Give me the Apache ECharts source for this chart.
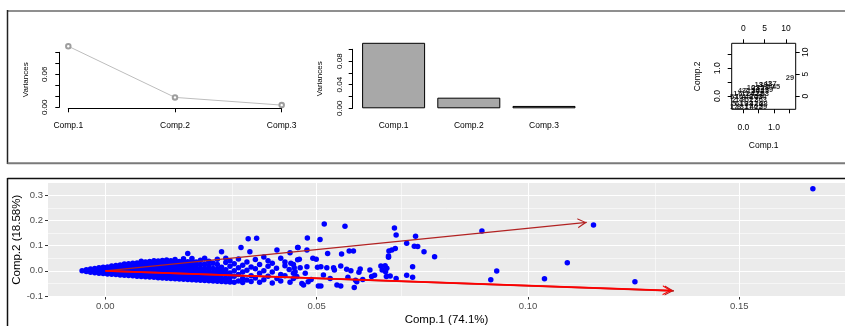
<!DOCTYPE html>
<html><head><meta charset="utf-8">
<script src="https://cdn.jsdelivr.net/npm/echarts@6/dist/echarts.min.js"></script>
<style>html,body{margin:0;padding:0;background:#fff}#c{width:845px;height:326px}</style>
</head><body><div id="c"></div>
<script>
const compLabels = ['Comp.1', 'Comp.2', 'Comp.3'];
const variances = [0.111, 0.018, 0.004];
const screeLabelTicks = [0, 0.06];
const barLabelTicks = [0, 0.04, 0.08];
const biplotBottomTicks = [0, 0.5, 1, 1.5];
const biplotBottomLabels = [0, 1];
const biplotTopTicks = [0, 5, 10];
const mainXTicks = [0, 0.05, 0.10, 0.15];
const mainYTicks = [-0.1, 0, 0.1, 0.2, 0.3];
const mainXMinor = [0.025, 0.075, 0.125];
const mainYMinor = [-0.05, 0.05, 0.15, 0.25];
const loadings = [[0.1139, 0.1925], [0.1345, -0.0795], [0.134, -0.0785]];

const denseScores = [
[-0.0055,0.000],[-0.0045,-0.003],[-0.0045,0.004],[-0.0035,-0.006],[-0.0035,0.001],[-0.0035,0.007],
[-0.0025,-0.008],[-0.0025,0.000],[-0.0025,0.009],[-0.0015,-0.010],[-0.0015,-0.002],[-0.0015,0.006],[-0.0015,0.012],
[-0.0005,-0.011],[-0.0005,-0.003],[-0.0005,0.005],[-0.0005,0.014],[0.0005,-0.013],[0.0005,-0.004],[0.0005,0.005],[0.0005,0.015],
[0.0015,-0.014],[0.0015,-0.005],[0.0015,0.004],[0.0015,0.013],[0.0015,0.019],
[0.0025,-0.015],[0.0025,-0.006],[0.0025,0.003],[0.0025,0.012],[0.0025,0.021],
[0.0035,-0.017],[0.0035,-0.007],[0.0035,0.003],[0.0035,0.013],[0.0035,0.023],
[0.0045,-0.018],[0.0045,-0.008],[0.0045,0.002],[0.0045,0.012],[0.0045,0.022],[0.0045,0.027],
[0.0055,-0.019],[0.0055,-0.009],[0.0055,0.001],[0.0055,0.011],[0.0055,0.021],[0.0055,0.028],
[0.0065,-0.020],[0.0065,-0.010],[0.0065,0.001],[0.0065,0.012],[0.0065,0.022],[0.0065,0.030],
[0.0075,-0.022],[0.0075,-0.012],[0.0075,-0.001],[0.0075,0.010],[0.0075,0.021],[0.0075,0.031],
[0.0085,-0.023],[0.0085,-0.013],[0.0085,-0.002],[0.0085,0.009],[0.0085,0.020],[0.0085,0.031],[0.0085,0.038],
[0.0095,-0.024],[0.0095,-0.014],[0.0095,-0.003],[0.0095,0.008],[0.0095,0.019],[0.0095,0.030],[0.0095,0.035],
[0.0105,-0.025],[0.0105,-0.015],[0.0105,-0.004],[0.0105,0.008],[0.0105,0.019],[0.0105,0.029],[0.0105,0.037],
[0.0115,-0.026],[0.0115,-0.016],[0.0115,-0.005],[0.0115,0.007],[0.0115,0.018],[0.0115,0.030],[0.0115,0.040],
[0.0125,-0.027],[0.0125,-0.017],[0.0125,-0.006],[0.0125,0.006],[0.0125,0.017],[0.0125,0.028],[0.0125,0.039],
[0.0135,-0.028],[0.0135,-0.018],[0.0135,-0.007],[0.0135,0.005],[0.0135,0.016],[0.0135,0.028],[0.0135,0.041],
[0.0145,-0.029],[0.0145,-0.019],[0.0145,-0.008],[0.0145,0.004],[0.0145,0.016],[0.0145,0.029],[0.0145,0.043],
[0.0155,-0.030],[0.0155,-0.020],[0.0155,-0.009],[0.0155,0.003],[0.0155,0.015],[0.0155,0.027],[0.0155,0.040],
[0.0165,-0.031],[0.0165,-0.021],[0.0165,-0.010],[0.0165,0.002],[0.0165,0.014],[0.0165,0.026],[0.0165,0.038],[0.0165,0.045],
[0.0175,-0.032],[0.0175,-0.022],[0.0175,-0.011],[0.0175,0.001],[0.0175,0.013],[0.0175,0.025],[0.0175,0.037],
[0.0185,-0.033],[0.0185,-0.023],[0.0185,-0.012],[0.0185,0.000],[0.0185,0.012],[0.0185,0.026],[0.0185,0.040],[0.0185,0.048],
[0.0195,-0.034],[0.0195,-0.024],[0.0195,-0.013],[0.0195,-0.001],[0.0195,0.011],[0.0195,0.024],[0.0195,0.036],[0.0195,0.069],
[0.0205,-0.035],[0.0205,-0.025],[0.0205,-0.014],[0.0205,-0.002],[0.0205,0.010],[0.0205,0.023],[0.0205,0.038],[0.0205,0.049],
[0.0215,-0.036],[0.0215,-0.026],[0.0215,-0.015],[0.0215,-0.003],[0.0215,0.009],[0.0215,0.022],[0.0215,0.035],
[0.0225,-0.037],[0.0225,-0.027],[0.0225,-0.016],[0.0225,-0.004],[0.0225,0.008],[0.0225,0.024],[0.0225,0.042],
[0.0235,-0.038],[0.0235,-0.028],[0.0235,-0.017],[0.0235,-0.005],[0.0235,0.010],[0.0235,0.027],[0.0235,0.050],
[0.0245,-0.039],[0.0245,-0.029],[0.0245,-0.018],[0.0245,-0.006],[0.0245,0.007],[0.0245,0.021],[0.0245,0.038],
[0.0255,-0.040],[0.0255,-0.030],[0.0255,-0.019],[0.0255,-0.007],[0.0255,0.009],[0.0255,0.030],
[0.0265,-0.041],[0.0265,-0.031],[0.0265,-0.020],[0.0265,-0.008],[0.0265,0.006],[0.0265,0.025],[0.0265,0.046],
[0.0275,-0.042],[0.0275,-0.030],[0.0275,-0.016],[0.0275,-0.002],[0.0275,0.014],[0.0275,0.076],
[0.0285,-0.043],[0.0285,-0.029],[0.0285,-0.012],[0.0285,0.004],[0.0285,0.033],[0.0285,0.050],
[0.0295,-0.044],[0.0295,-0.027],[0.0295,-0.009],[0.0295,0.018],[0.0295,0.040],
[0.0305,-0.045],[0.0305,-0.022],[0.0305,0.000],[0.0305,0.028],
[0.0315,-0.040],[0.0315,-0.015],[0.0315,0.012],[0.0315,0.047]
];
const sparseScores = [
[0.0325,-0.046],[0.0325,-0.030],[0.0325,-0.005],[0.0325,0.022],[0.0321,0.093],
[0.0335,-0.036],[0.0335,0.002],[0.0335,0.035],[0.0338,0.127],
[0.0345,-0.042],[0.0345,-0.020],[0.0345,0.015],[0.0342,0.076],
[0.0355,-0.028],[0.0355,0.008],[0.0355,0.045],[0.0358,0.129],
[0.0365,-0.045],[0.0365,-0.010],[0.0365,0.025],
[0.0375,-0.035],[0.0375,0.000],[0.0375,0.055],
[0.0385,-0.022],[0.0385,0.018],[0.0385,0.040],
[0.0395,-0.048],[0.0395,-0.005],[0.0395,0.030],
[0.0406,-0.030],[0.0405,0.010],[0.0406,0.083],
[0.0415,-0.040],[0.0415,-0.015],[0.0415,0.050],
[0.0425,-0.020],[0.0425,0.020],[0.0425,0.035],
[0.0437,-0.045],[0.0435,0.005],[0.0437,0.072],
[0.0445,-0.030],[0.0445,-0.010],[0.0445,0.025],[0.0455,0.093],[0.0455,0.044],
[0.0518,0.186],[0.0567,0.177],[0.0478,0.130],[0.0508,0.124],[0.0684,0.170],[0.0688,0.142],
[0.0734,0.137],[0.0713,0.110],[0.0686,0.089],[0.0731,0.098],[0.0739,0.097],[0.0754,0.076],
[0.0779,0.056],[0.0891,0.158],[0.1093,0.032],[0.0926,-0.001],[0.0912,-0.035],[0.1039,-0.031],
[0.0678,0.083],[0.0671,0.079],[0.0670,0.059],[0.0670,0.054],[0.0577,0.079],[0.0587,0.079],
[0.0559,0.067],[0.0526,0.069],[0.0456,0.093],[0.0477,0.083],[0.0491,0.050],[0.0499,0.046],
[0.0459,0.046],[0.0439,0.030],[0.0510,0.016],[0.0502,0.014],[0.0477,0.016],[0.0461,0.012],
[0.0447,0.012],[0.0557,0.019],[0.0542,0.003],[0.0540,0.012],[0.0524,0.012],[0.0571,0.006],
[0.0581,0.000],[0.0603,0.007],[0.0600,-0.006],[0.0574,-0.026],[0.0652,0.019],[0.0662,0.020],
[0.0666,0.010],[0.0655,0.003],[0.0663,-0.004],[0.0674,-0.021],[0.0688,-0.030],[0.0665,-0.023],
[0.0727,0.016],[0.0713,-0.018],[0.0727,-0.026],[0.0630,-0.023],[0.0637,-0.018],[0.0609,-0.034],
[0.0504,-0.060],[0.0510,-0.060],[0.0548,-0.056],[0.0557,-0.060],[0.0589,-0.066],[0.0595,-0.043],
[0.0592,-0.037],[0.0465,-0.050],[0.0469,-0.056],[0.0480,-0.043],[0.0487,-0.034],[0.0453,-0.023],
[0.0532,-0.030],[0.0516,-0.017],[0.0473,-0.010],[0.0449,-0.004],[0.0626,0.003],
[0.1155,0.182],[0.1253,-0.043],[0.1674,0.326]
];
const biplotPoints = [
[-0.30,-0.38,'12'],[-0.14,-0.38,'8'],[0.02,-0.38,'31'],[0.18,-0.38,'17'],[0.34,-0.38,'40'],[0.50,-0.38,'22'],[0.64,-0.38,'59'],
[-0.30,-0.27,'5'],[-0.14,-0.27,'61'],[0.02,-0.27,'19'],[0.18,-0.27,'33'],[0.34,-0.27,'47'],[0.50,-0.27,'26'],[0.66,-0.27,'38'],
[-0.30,-0.16,'2'],[-0.14,-0.16,'14'],[0.02,-0.16,'9'],[0.18,-0.16,'51'],[0.34,-0.16,'27'],[0.50,-0.16,'36'],[0.70,-0.14,'3'],
[-0.30,-0.05,'57'],[-0.14,-0.05,'16'],[0.02,-0.05,'4'],[0.18,-0.05,'48'],[0.34,-0.05,'20'],[0.50,-0.05,'55'],[0.62,-0.02,'34'],
[-0.26,0.06,'1'],[-0.10,0.06,'6'],[0.06,0.06,'11'],[0.22,0.06,'24'],[0.38,0.06,'42'],[0.54,0.06,'18'],[0.70,0.08,'53'],
[-0.05,0.17,'43'],[0.10,0.17,'7'],[0.25,0.17,'15'],[0.40,0.17,'30'],[0.55,0.17,'44'],[0.70,0.19,'21'],[0.84,0.21,'39'],
[0.25,0.28,'10'],[0.40,0.28,'23'],[0.55,0.28,'35'],[0.70,0.30,'28'],[0.88,0.32,'50'],
[0.50,0.40,'13'],[0.65,0.41,'32'],[0.80,0.43,'41'],[0.95,0.45,'37'],
[1.07,0.32,'45'],[1.52,0.66,'29']
];

const FONT = '"Liberation Sans", Arial, sans-serif';
const noSplit = {show: false};
const chart = echarts.init(document.getElementById('c'), null, {renderer: 'canvas'});

const gridLineData = []
  .concat(mainXTicks.map(v => ({xAxis: v, lineStyle: {color: '#FFFFFF', width: 1.1, type: 'solid'}})))
  .concat(mainXMinor.map(v => ({xAxis: v, lineStyle: {color: '#FFFFFF', width: 0.55, type: 'solid'}})))
  .concat(mainYTicks.map(v => ({yAxis: v, lineStyle: {color: '#FFFFFF', width: 1.1, type: 'solid'}})))
  .concat(mainYMinor.map(v => ({yAxis: v, lineStyle: {color: '#FFFFFF', width: 0.55, type: 'solid'}})));

const arrowStyles = [
  {color: '#B22222', width: 1.1, type: 'solid'},
  {color: '#B22222', width: 1.8, type: 'solid'},
  {color: '#FF0000', width: 1.6, type: 'solid'}
];
const arrowData = loadings.map((p, i) => [
  {coord: [0, 0], lineStyle: arrowStyles[i]},
  {coord: p, lineStyle: arrowStyles[i]}
]);

const smallLab = {fontFamily: FONT, color: '#000', fontSize: 8.5};

const option = {
  animation: false,
  textStyle: {fontFamily: FONT},
  grid: [
    {left: 68.3, width: 213.4, top: 52.3, height: 55, outerBoundsMode: 'none'},
    {left: 356, width: 225.6, top: 49.3, height: 59, outerBoundsMode: 'none'},
    {left: 731.7, width: 64, top: 43.3, height: 66, show: true, borderColor: '#000', borderWidth: 1, backgroundColor: 'transparent', outerBoundsMode: 'none'},
    {left: 48, right: 0, top: 183, height: 113.5, show: true, backgroundColor: '#EBEBEB', borderWidth: 0, outerBoundsMode: 'none'}
  ],
  xAxis: [
    {gridIndex: 0, type: 'category', data: compLabels, boundaryGap: false, offset: 1,
     axisLine: {show: true, onZero: false, lineStyle: {color: '#000', width: 1}},
     axisTick: {show: true, length: 4, lineStyle: {color: '#000'}},
     axisLabel: Object.assign({margin: 13, interval: 0}, smallLab), splitLine: noSplit},
    {gridIndex: 1, type: 'category', data: compLabels,
     axisLine: {show: false, onZero: false}, axisTick: {show: false},
     axisLabel: Object.assign({margin: 13, interval: 0}, smallLab), splitLine: noSplit},
    {gridIndex: 2, type: 'value', position: 'bottom', min: -0.38, max: 1.71,
     axisLine: {show: false, onZero: false},
     axisTick: {show: true, length: 4, customValues: biplotBottomTicks, lineStyle: {color: '#000'}},
     axisLabel: Object.assign({margin: 14, customValues: biplotBottomLabels, formatter: v => v.toFixed(1)}, smallLab),
     splitLine: noSplit, name: 'Comp.1', nameLocation: 'middle', nameGap: 32, nameMoveOverlap: false, nameTextStyle: smallLab},
    {gridIndex: 2, type: 'value', position: 'top', min: -2.72, max: 12.27,
     axisLine: {show: false, onZero: false},
     axisTick: {show: true, length: 4, customValues: biplotTopTicks, lineStyle: {color: '#000'}},
     axisLabel: Object.assign({margin: 10, customValues: biplotTopTicks, formatter: v => String(v)}, smallLab),
     splitLine: noSplit},
    {gridIndex: 3, type: 'value', min: -0.01356, max: 0.175,
     axisLine: {show: false, onZero: false},
     axisTick: {show: true, length: 3, customValues: mainXTicks, lineStyle: {color: '#333', width: 1}},
     axisLabel: {customValues: mainXTicks, formatter: v => v.toFixed(2), color: '#4D4D4D', fontSize: 9.5, margin: 5, fontFamily: FONT},
     splitLine: noSplit, name: 'Comp.1 (74.1%)', nameLocation: 'middle', nameGap: 17, nameMoveOverlap: false,
     nameTextStyle: {fontSize: 11.5, color: '#000', fontFamily: FONT}}
  ],
  yAxis: [
    {gridIndex: 0, type: 'value', min: 0, max: 0.1, interval: 0.02, offset: 9,
     axisLine: {show: true, onZero: false, lineStyle: {color: '#000', width: 1}},
     axisTick: {show: true, length: 4, lineStyle: {color: '#000'}},
     axisLabel: Object.assign({customValues: screeLabelTicks, rotate: 90, margin: 11, formatter: v => v.toFixed(2)}, smallLab, {fontSize: 8}),
     splitLine: noSplit, name: 'Variances', nameLocation: 'middle', nameGap: 29.6, nameMoveOverlap: false, nameTextStyle: Object.assign({}, smallLab, {fontSize: 8})},
    {gridIndex: 1, type: 'value', min: 0, max: 0.1, interval: 0.02, offset: 3.3,
     axisLine: {show: true, onZero: false, lineStyle: {color: '#000', width: 1}},
     axisTick: {show: true, length: 4, lineStyle: {color: '#000'}},
     axisLabel: Object.assign({customValues: barLabelTicks, rotate: 90, margin: 8.7, formatter: v => v.toFixed(2)}, smallLab, {fontSize: 8}),
     splitLine: noSplit, name: 'Variances', nameLocation: 'middle', nameGap: 29.4, nameMoveOverlap: false, nameTextStyle: Object.assign({}, smallLab, {fontSize: 8})},
    {gridIndex: 2, type: 'value', position: 'left', min: -0.48, max: 1.90,
     axisLine: {show: false, onZero: false},
     axisTick: {show: true, length: 4, customValues: biplotBottomTicks, lineStyle: {color: '#000'}},
     axisLabel: Object.assign({customValues: biplotBottomLabels, rotate: 90, margin: 10, formatter: v => v.toFixed(1)}, smallLab),
     splitLine: noSplit, name: 'Comp.2', nameLocation: 'middle', nameGap: 30, nameMoveOverlap: false, nameTextStyle: smallLab},
    {gridIndex: 2, type: 'value', position: 'right', min: -3.04, max: 12.06,
     axisLine: {show: false, onZero: false},
     axisTick: {show: true, length: 4, customValues: biplotTopTicks, lineStyle: {color: '#000'}},
     axisLabel: Object.assign({customValues: biplotTopTicks, rotate: 90, margin: 5.3, formatter: v => String(v)}, smallLab),
     splitLine: noSplit},
    {gridIndex: 3, type: 'value', min: -0.102, max: 0.349,
     axisLine: {show: false, onZero: false},
     axisTick: {show: true, length: 3, customValues: mainYTicks, lineStyle: {color: '#333', width: 1}},
     axisLabel: {customValues: mainYTicks, formatter: v => v.toFixed(1), color: '#4D4D4D', fontSize: 9.5, margin: 5, fontFamily: FONT},
     splitLine: noSplit, name: 'Comp.2 (18.58%)', nameLocation: 'middle', nameGap: 25, nameMoveOverlap: false,
     nameTextStyle: {fontSize: 11.5, color: '#000', fontFamily: FONT}}
  ],
  series: [
    {type: 'line', xAxisIndex: 0, yAxisIndex: 0, data: variances, clip: false,
     symbol: 'emptyCircle', symbolSize: 4.5,
     lineStyle: {color: '#BDBDBD', width: 1}, itemStyle: {color: '#9E9E9E', borderWidth: 0.8}},
    {type: 'bar', xAxisIndex: 1, yAxisIndex: 1, data: variances, barWidth: 63, clip: false,
     itemStyle: {color: '#A8A8A8', borderColor: '#000', borderWidth: 1}},
    {type: 'scatter', xAxisIndex: 2, yAxisIndex: 2, data: biplotPoints, clip: false,
     symbolSize: 0,
     label: {show: true, position: 'inside', formatter: p => p.data[2], fontSize: 7.5, fontWeight: 'bold', color: '#000', fontFamily: FONT}},
    {type: 'scatter', xAxisIndex: 4, yAxisIndex: 4, data: [[0, 0]], symbolSize: 0, z: 1, silent: true,
     markLine: {z: 1, silent: true, symbol: ['none', 'none'], label: {show: false}, animation: false, data: gridLineData}},
    {type: 'scatter', xAxisIndex: 4, yAxisIndex: 4, data: denseScores.concat(sparseScores), z: 3,
     symbol: 'circle', symbolSize: 5.5, large: false, progressive: 0,
     itemStyle: {color: '#0000FF', opacity: 1, borderWidth: 0, borderColor: '#0000FF'}},
    {type: 'scatter', xAxisIndex: 4, yAxisIndex: 4, data: [[0, 0]], symbolSize: 0, z: 6, silent: true,
     markLine: {z: 6, silent: true, animation: false, label: {show: false},
       lineStyle: {type: 'solid'},
       symbol: ['none', 'path://M5,0 L5.01,0 L5,0.01 Z M0,20 L5,10 L10,20 L8.7,20 L5,12.6 L1.3,20 Z'], symbolSize: [10, 18],
       data: arrowData}}
  ],
  graphic: [
    {type: 'line', shape: {x1: 7.5, y1: 11, x2: 845, y2: 11}, style: {stroke: '#8F8F8F', lineWidth: 2}, z: 100},
    {type: 'line', shape: {x1: 7.5, y1: 10, x2: 7.5, y2: 164}, style: {stroke: '#222', lineWidth: 1.5}, z: 100},
    {type: 'line', shape: {x1: 7.5, y1: 163.3, x2: 845, y2: 163.3}, style: {stroke: '#7A7A7A', lineWidth: 2}, z: 100},
    {type: 'line', shape: {x1: 7.5, y1: 178.5, x2: 845, y2: 178.5}, style: {stroke: '#111', lineWidth: 1.5}, z: 100},
    {type: 'line', shape: {x1: 7.5, y1: 178, x2: 7.5, y2: 326}, style: {stroke: '#111', lineWidth: 1.5}, z: 100}
  ]
};
chart.setOption(option);
</script></body></html>
